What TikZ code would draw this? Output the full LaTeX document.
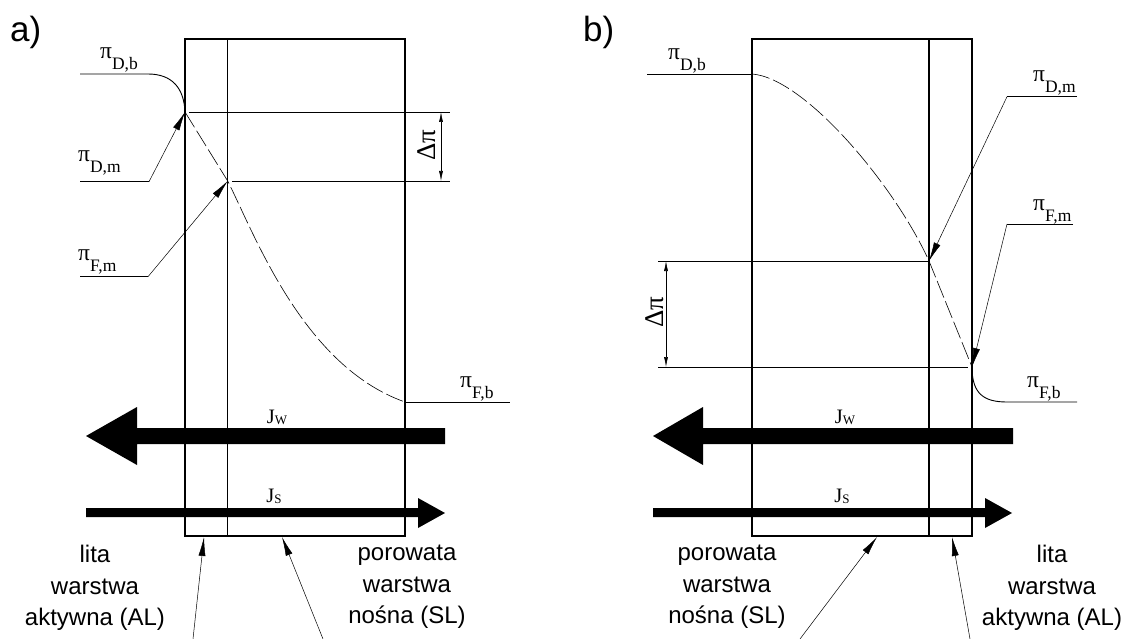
\documentclass[tikz,border=0pt]{standalone}
\usepackage{fontspec}
\setmainfont{Liberation Sans}
\newfontfamily\tms{Liberation Serif}
\usetikzlibrary{arrows.meta}
\newcommand\pil[1]{π\raisebox{-11pt}{\fontsize{17.5}{17.5}\selectfont #1}}
\newcommand\jl[1]{J\raisebox{-1pt}{\fontsize{13}{13}\selectfont #1}}
\tikzset{
  boxline/.style={line width=1.1pt},
  thinline/.style={line width=0.6pt},
  lead/.style={line width=0.5pt, -{Latex[length=19pt,width=7pt]}},
  dimarr/.style={line width=0.6pt, {Latex[length=10pt,width=4pt]}-{Latex[length=10pt,width=4pt]}},
  dashcurve/.style={line width=0.6pt, dash pattern=on 18pt off 4pt},
  pilab/.style={inner sep=0pt, font=\tms\fontsize{23.5}{23.5}\selectfont},
  jlab/.style={inner sep=0pt, font=\tms\fontsize{20.5}{20.5}\selectfont},
  dlab/.style={inner sep=0pt, rotate=90, font=\tms\fontsize{27}{27}\selectfont},
  lab/.style={inner sep=0pt, align=center, font=\fontsize{24}{31.5}\selectfont},
  panel/.style={inner sep=0pt, font=\fontsize{35}{35}\selectfont}
}
\begin{document}
\begin{tikzpicture}[x=1pt,y=-1pt]
\useasboundingbox (0,0) rectangle (1129,639);
% ---------------- panel a ----------------
\node[panel, anchor=base west] (pa) at (10,42) {a)};
\draw[boxline] (185,39) rectangle (405,536);
\draw[boxline] (227.7,39) -- (227.7,536);
\coordinate (aDm) at (185,112);
\coordinate (aFm) at (227.7,181);
\coordinate (aFb) at (405,402);
\draw[line width=0.9pt] (80,74) -- (148,74) .. controls (172,74) and (184,88) .. (aDm);
\draw[dashcurve] (aDm) -- (aFm) .. controls (255,235) and (303,366) .. (aFb);
\draw[thinline] (aFb) -- (510,402);
\draw[thinline] (189,112) -- (450,112);
\draw[thinline] (232,181) -- (450,181);
\coordinate (aD1) at (441,112);
\coordinate (aD2) at (441,181);
\draw[dimarr] (aD1) -- (aD2);
\node[dlab] (adp) at (427,145) {Δπ};
\node[pilab, anchor=base west] (aldb) at (100,59) {\pil{D,b}};
\node[pilab, anchor=base west] (aldm) at (78,162) {\pil{D,m}};
\node[pilab, anchor=base west] (alfm) at (78,260) {\pil{F,m}};
\node[pilab, anchor=base west] (alfb) at (460,387) {\pil{F,b}};
\draw[thinline] (80,181.7) -- (149,181.7);
\draw[lead] (149,181.7) -- (aDm);
\draw[thinline] (80,276.7) -- (148,276.7);
\draw[lead] (148,276.7) -- (aFm);
\fill (445,428) -- (137,428) -- (137,407) -- (86,436) -- (137,465) -- (137,444) -- (445,444) -- cycle;
\node[jlab, anchor=base] (ajw) at (277,423) {\jl{W}};
\fill (86,508.2) -- (418,508.2) -- (418,498) -- (445,513) -- (418,528) -- (418,517.2) -- (86,517.2) -- cycle;
\node[jlab, anchor=base] (ajs) at (274,502) {\jl{S}};
\node[lab, anchor=north] (aAL) at (95,545) {lita\\warstwa\\aktywna (AL)};
\node[lab, anchor=north] (aSL) at (407,545) {porowata\\warstwa\\nośna (SL)};
\coordinate (aB1) at (193,639);
\coordinate (aT1) at (204,537);
\coordinate (aB2) at (323,639);
\coordinate (aT2) at (282,537);
\draw[lead] (aB1) -- (aT1);
\draw[lead] (aB2) -- (aT2);
% ---------------- panel b ----------------
\node[panel, anchor=base west] (pb) at (583,42) {b)};
\draw[boxline] (752,39) rectangle (972,536);
\draw[boxline] (929,39) -- (929,536);
\coordinate (bDb) at (752,74);
\coordinate (bDm) at (929,261);
\coordinate (bFm) at (972,367);
\draw[line width=0.9pt] (647,74) -- (bDb);
\draw[dashcurve] (bDb) .. controls (805,78) and (895,186) .. (bDm) -- (bFm);
\draw[line width=0.9pt] (bFm) .. controls (972,394) and (984,402) .. (1007,402) -- (1077,402);
\draw[thinline] (658,261) -- (bDm);
\draw[thinline] (658,367) -- (968,367);
\coordinate (bD1) at (666,261);
\coordinate (bD2) at (666,367);
\draw[dimarr] (bD1) -- (bD2);
\node[dlab] (bdp) at (655,312) {Δπ};
\node[pilab, anchor=base west] (bldb) at (668,60) {\pil{D,b}};
\node[pilab, anchor=base west] (bldm) at (1033,82) {\pil{D,m}};
\node[pilab, anchor=base west] (blfm) at (1033,211) {\pil{F,m}};
\node[pilab, anchor=base west] (blfb) at (1027,387) {\pil{F,b}};
\draw[thinline] (1077,96.7) -- (1007,96.7);
\draw[lead] (1007,96.7) -- (bDm);
\draw[thinline] (1073,224) -- (1007,224);
\draw[lead] (1007,224) -- (bFm);
\fill (1013,428) -- (703,428) -- (703,407) -- (653,436) -- (703,465) -- (703,444) -- (1013,444) -- cycle;
\node[jlab, anchor=base] (bjw) at (845,423) {\jl{W}};
\fill (653,508.2) -- (985,508.2) -- (985,498) -- (1012,513) -- (985,528) -- (985,517.2) -- (653,517.2) -- cycle;
\node[jlab, anchor=base] (bjs) at (842,502) {\jl{S}};
\node[lab, anchor=north] (bSL) at (727,545) {porowata\\warstwa\\nośna (SL)};
\node[lab, anchor=north] (bAL) at (1052,545) {lita\\warstwa\\aktywna (AL)};
\coordinate (bB1) at (800,639);
\coordinate (bT1) at (877,537);
\coordinate (bB2) at (970,639);
\coordinate (bT2) at (952,537);
\draw[lead] (bB1) -- (bT1);
\draw[lead] (bB2) -- (bT2);
\end{tikzpicture}
\end{document}
